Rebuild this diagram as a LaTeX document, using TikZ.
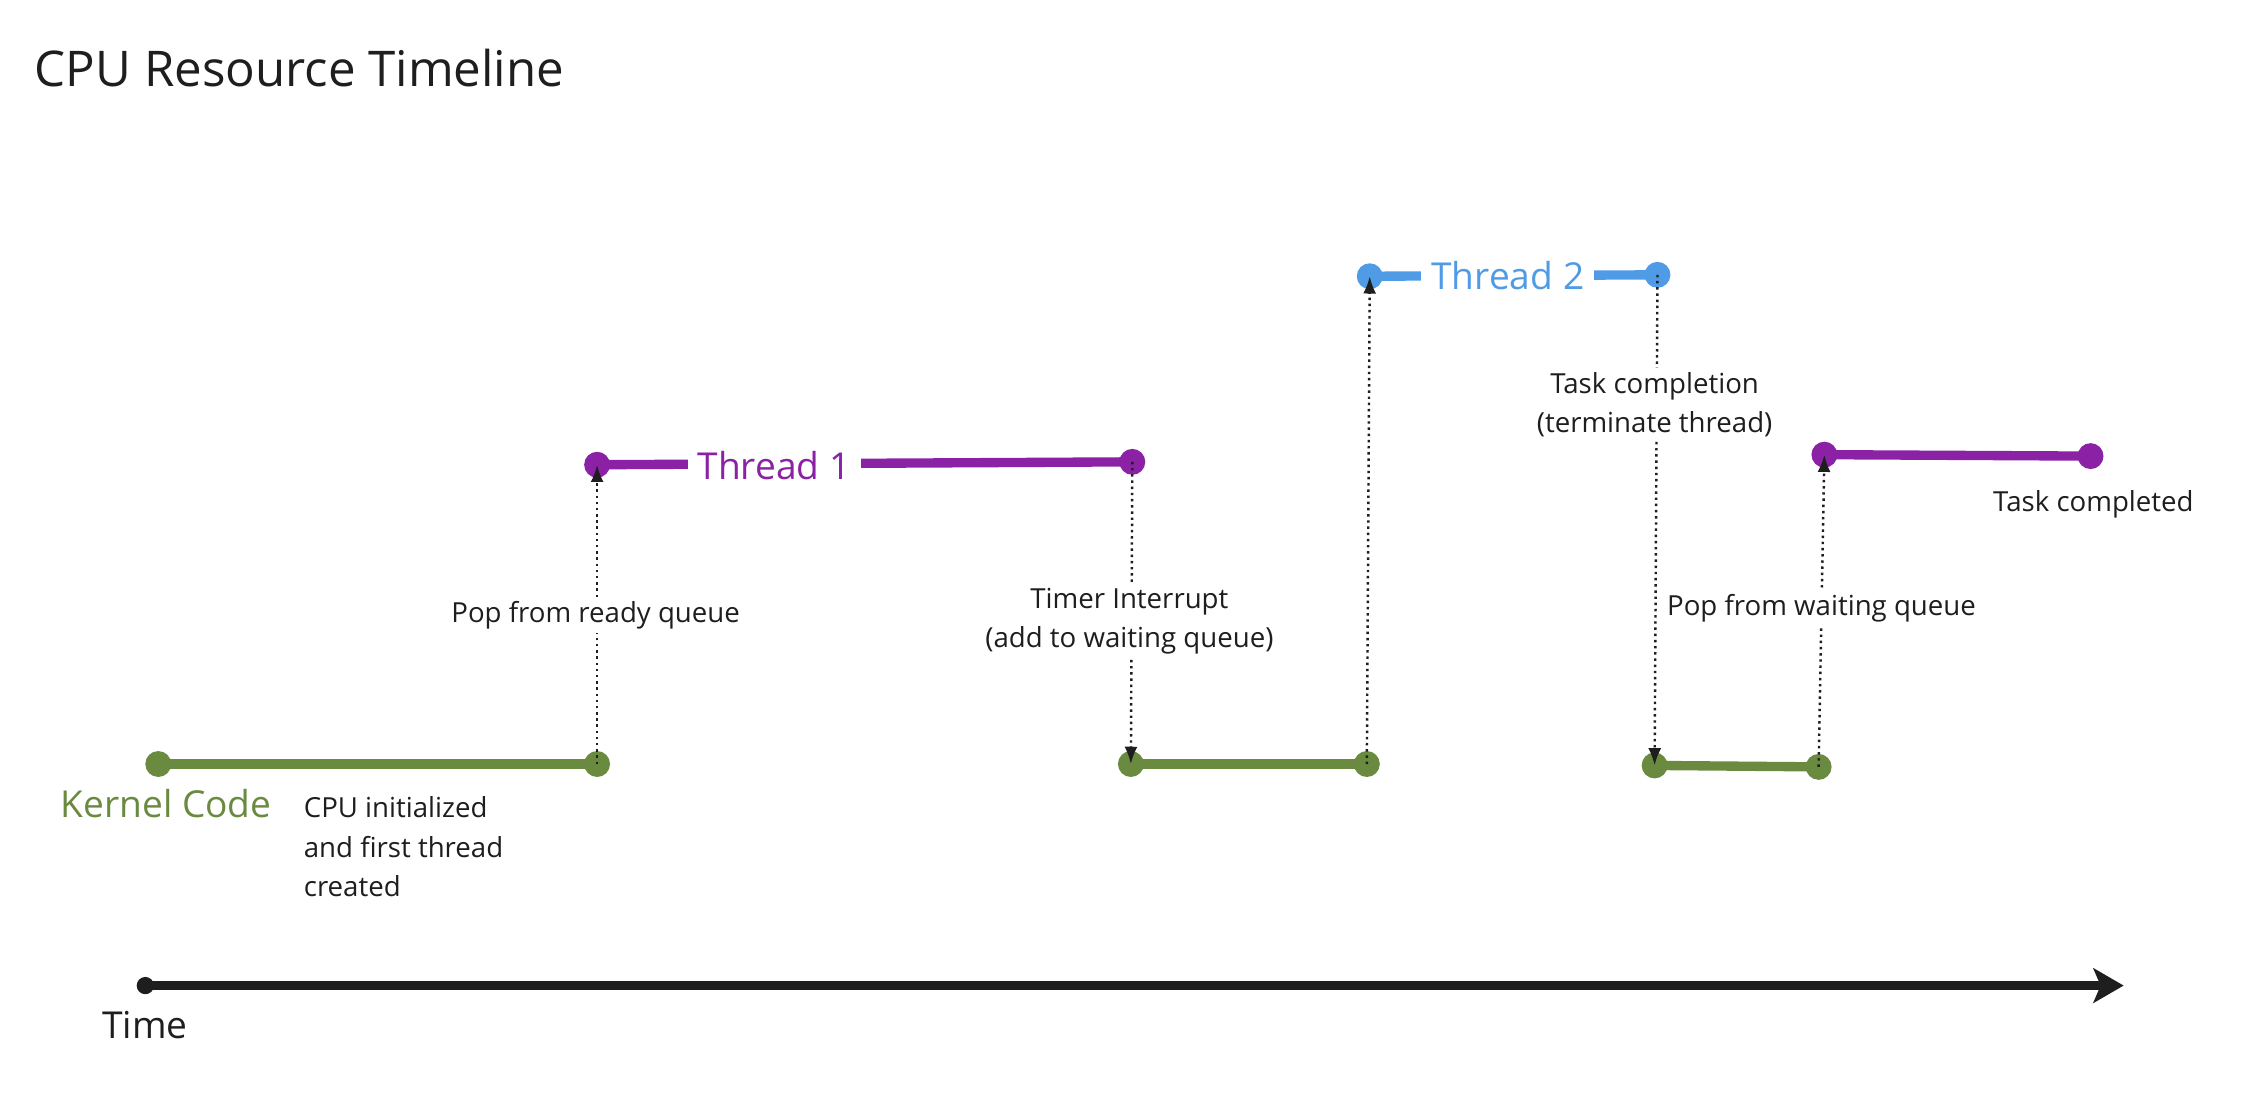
\documentclass[tikz,border=0pt]{standalone}
\usepackage{fontspec}
\setmainfont{Open Sans}
\usepackage{xcolor}
\usetikzlibrary{arrows.meta}
\definecolor{kgreen}{HTML}{6A8A3F}
\definecolor{tpurple}{HTML}{8B22A6}
\definecolor{tblue}{HTML}{4F9BE6}
\definecolor{ink}{HTML}{1E1E1E}

\begin{document}
\begin{tikzpicture}[x=1pt,y=-1pt,
    dot/.style={circle,fill,inner sep=0pt,minimum size=18pt},
    run/.style={line width=6.5pt},
    hop/.style={ink,line width=1.7pt,dash pattern=on 1.7pt off 2.6pt,-{Latex[length=12pt,width=9pt]}},
    note/.style={text=ink,font=\fontsize{19.2}{27.2}\selectfont,align=center,fill=white,inner sep=3pt},
    big/.style={font=\fontsize{25.8}{30}\selectfont,inner sep=0pt}]
    \useasboundingbox[fill=white] (0,0) rectangle (1568,774);

    % Title
    \node[anchor=base west,inner sep=0pt,text=ink,font=\fontsize{34.2}{40}\selectfont] (title) at (24,60) {CPU Resource Timeline};

    % Kernel code
    \node[dot,kgreen] (k1) at (110,531) {};
    \node[dot,kgreen] (k2) at (415,531) {};
    \node[dot,kgreen] (k3) at (786,531) {};
    \node[dot,kgreen] (k4) at (950,531) {};
    \node[dot,kgreen] (k5) at (1150,532) {};
    \node[dot,kgreen] (k6) at (1264,533) {};
    \draw[run,kgreen] (k1.center) -- (k2.center);
    \draw[run,kgreen] (k3.center) -- (k4.center);
    \draw[run,kgreen] (k5.center) -- (k6.center);
    \node[big,anchor=base west,text=kgreen] (kernel) at (42,568) {Kernel Code};
    \node[note,anchor=west,align=left,fill=none,inner sep=0pt] (init) at (211,588.5) {CPU initialized\\and first thread\\created};

    % Thread 1
    \node[dot,tpurple] (t1a) at (415,323) {};
    \node[dot,tpurple] (t1b) at (787,321) {};
    \node[dot,tpurple] (t1c) at (1268,316) {};
    \node[dot,tpurple] (t1d) at (1453,317) {};
    \draw[run,tpurple] (t1a.center) -- (t1b.center);
    \draw[run,tpurple] (t1c.center) -- (t1d.center);
    \node[big,anchor=base,text=tpurple,fill=white,inner xsep=7pt] (thread1) at (538,333) {Thread 1};
    \node[note,fill=none] (done) at (1455,350.5) {Task completed};

    % Thread 2
    \node[dot,tblue] (t2a) at (952,192) {};
    \node[dot,tblue] (t2b) at (1152,191) {};
    \draw[run,tblue] (t2a.center) -- (t2b.center);
    \node[big,anchor=base,text=tblue,fill=white,inner xsep=7pt] (thread2) at (1048,201.5) {Thread 2};

    % Switches
    \draw[hop] (k2.center) -- (t1a.center);
    \draw[hop] (t1b.center) -- (k3.center);
    \draw[hop] (k4.center) -- (t2a.center);
    \draw[hop] (t2b.center) -- (k5.center);
    \draw[hop] (k6.center) -- (t1c.center);
    \node[note] (popready) at (414,427.5) {Pop from ready queue};
    \node[note] (timer) at (785,431.5) {Timer Interrupt\\(add to waiting queue)};
    \node[note] (finish) at (1150,281) {Task completion\\(terminate thread)};
    \node[note] (popwait) at (1266,422.5) {Pop from waiting queue};

    % Time axis
    \node[dot,ink,minimum size=12pt] (t0) at (101,685) {};
    \coordinate (tend) at (1476,685);
    \draw[ink,line width=6pt,-{Stealth[length=21pt,width=24pt,inset=5pt]}] (t0.center) -- (tend);
    \node[big,anchor=base west,text=ink] (time) at (71,722) {Time};
\end{tikzpicture}
\end{document}
